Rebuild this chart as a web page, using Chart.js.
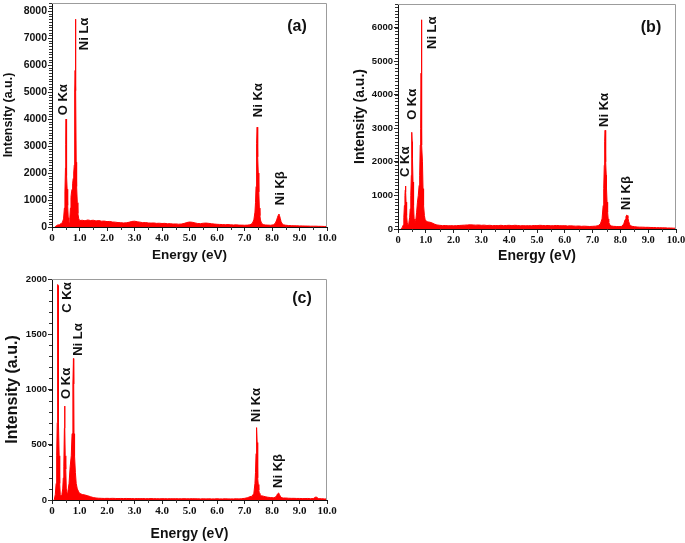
<!DOCTYPE html>
<html>
<head>
<meta charset="utf-8">
<script src="https://cdn.jsdelivr.net/npm/chart.js@4.4.1/dist/chart.umd.min.js"></script>
<style>
  html, body { margin: 0; padding: 0; background: #fff; overflow: hidden; }
  body { width: 685px; height: 543px; position: relative; }
  canvas { position: absolute; }
</style>
</head>
<body>
<canvas id="chartA" width="340" height="266" style="left:0;top:0"></canvas>
<canvas id="chartB" width="340" height="266" style="left:345px;top:0"></canvas>
<canvas id="chartC" width="340" height="273" style="left:0;top:270px"></canvas>
<script>
// EDS spectra (energy in eV, counts in a.u.)

const xTickLabels = ["0", "1.0", "2.0", "3.0", "4.0", "5.0", "6.0", "7.0", "8.0", "9.0", "10.0"];
const yTicksA = [0, 1000, 2000, 3000, 4000, 5000, 6000, 7000, 8000];
const yTicksB = [0, 1000, 2000, 3000, 4000, 5000, 6000];
const yTicksC = [0, 500, 1000, 1500, 2000];

// shared energies: flat background and the Ni K region
const baseEnergy = [
  1.1, 1.2, 1.3, 1.4, 1.5, 1.6, 1.7, 1.8, 1.9, 2.0,
  2.1, 2.2, 2.3, 2.4, 2.5, 2.6, 2.7, 2.8, 2.9, 3.0,
  3.1, 3.2, 3.3, 3.4, 3.5, 3.6, 3.7, 3.8, 3.9, 4.0,
  4.1, 4.2, 4.3, 4.4, 4.5, 4.6, 4.7, 4.8, 4.9, 5.0,
  5.1, 5.2, 5.3, 5.4, 5.5, 5.6, 5.7, 5.8, 5.9, 6.0,
  6.1, 6.2, 6.3, 6.4, 6.5, 6.6, 6.7, 6.8, 6.9, 7.0,
  7.1, 7.2
];
const kEnergy = [
  7.28, 7.34, 7.38, 7.40, 7.42, 7.43, 7.44, 7.45, 7.46, 7.47,
  7.48, 7.49, 7.50, 7.52, 7.54, 7.56, 7.58, 7.62, 7.68, 7.75,
  7.85, 7.95, 8.05, 8.12, 8.17, 8.20, 8.23, 8.25, 8.27, 8.30,
  8.33, 8.37, 8.42, 8.50,
  8.6, 8.7, 8.8, 8.9, 9.0, 9.1, 9.2, 9.3, 9.4, 9.5,
  9.6, 9.7, 9.8, 9.9, 10.0
];

// (a)
const lowEnergyA = [
  0.10, 0.14, 0.18, 0.22, 0.26, 0.30, 0.34, 0.38, 0.42, 0.45,
  0.47, 0.49, 0.50, 0.51, 0.52, 0.53, 0.54, 0.55, 0.57, 0.59,
  0.61, 0.63, 0.65, 0.67, 0.69, 0.71, 0.73, 0.75, 0.77, 0.79,
  0.81, 0.82, 0.83, 0.84, 0.85, 0.86, 0.87, 0.88, 0.89, 0.90,
  0.92, 0.94, 0.97, 1.00
];
const lowCountsA = [
  0, 30, 60, 80, 70, 110, 130, 180, 300, 700,
  1300, 2200, 3050, 4000, 3100, 3000, 1900, 1400, 800, 350,
  200, 180, 350, 700, 1100, 1300, 1400, 1600, 1800, 2000,
  2300, 2400, 5000, 5800, 7700, 5800, 5050, 2400, 2300, 1500,
  900, 500, 320, 240
];
const baseCountsA = [
  250, 230, 260, 240, 250, 225, 240, 215, 220, 200,
  205, 185, 180, 165, 160, 150, 155, 175, 205, 215,
  195, 180, 160, 165, 150, 145, 150, 135, 140, 130,
  135, 120, 125, 110, 115, 105, 110, 130, 165, 185,
  175, 150, 130, 125, 140, 145, 135, 120, 110, 100,
  95, 90, 85, 90, 80, 75, 80, 70, 70, 65,
  70, 80
];
const kCountsA = [
  130, 260, 550, 900, 1500, 2300, 2800, 3100, 3700, 3550,
  3300, 2600, 2000, 1300, 700, 420, 260, 140, 90, 75,
  70, 65, 80, 140, 260, 360, 440, 480, 430, 320,
  200, 120, 80, 65,
  55, 50, 45, 45, 40, 40, 35, 35, 30, 30,
  30, 25, 25, 20, 20
];

// (b)
const lowEnergyB = [
  0.10, 0.15, 0.19, 0.21, 0.23, 0.25, 0.26, 0.27, 0.28, 0.29,
  0.31, 0.33, 0.36, 0.39, 0.42, 0.44, 0.46, 0.48, 0.49, 0.50,
  0.51, 0.52, 0.54, 0.56, 0.58, 0.61, 0.64, 0.67, 0.70, 0.73,
  0.76, 0.78, 0.80, 0.81, 0.82, 0.83, 0.84, 0.85, 0.86, 0.88,
  0.90, 0.92, 0.95, 0.98, 1.00
];
const lowCountsB = [
  0, 40, 120, 350, 700, 1000, 1150, 1280, 1100, 800,
  400, 200, 130, 180, 350, 600, 1000, 1600, 2200, 2880,
  2600, 2100, 1400, 700, 300, 180, 250, 500, 800, 1000,
  1300, 1600, 2500, 2600, 3000, 4640, 6230, 4600, 2500, 2000,
  1200, 700, 400, 260, 220
];
const baseCountsB = [
  210, 190, 150, 120, 110, 100, 105, 95, 100, 95,
  100, 105, 110, 115, 120, 125, 120, 115, 120, 110,
  115, 105, 110, 100, 105, 100, 110, 100, 105, 110,
  100, 110, 105, 95, 100, 95, 100, 95, 105, 100,
  110, 105, 100, 105, 95, 100, 105, 100, 95, 100,
  90, 95, 90, 85, 90, 80, 85, 80, 75, 80,
  85, 100
];
const kCountsB = [
  150, 300, 700, 1200, 1900, 2300, 2600, 2940, 2850, 2500,
  2000, 1600, 1200, 800, 500, 300, 200, 120, 90, 80,
  75, 70, 80, 150, 280, 370, 415, 400, 330, 220,
  140, 100, 80, 70,
  60, 55, 55, 50, 50, 45, 45, 40, 40, 35,
  35, 30, 30, 25, 25
];

// (c)
const lowEnergyC = [
  0.08, 0.12, 0.15, 0.17, 0.19, 0.20, 0.21, 0.22, 0.23, 0.24,
  0.26, 0.28, 0.30, 0.33, 0.36, 0.39, 0.41, 0.43, 0.45, 0.46,
  0.47, 0.48, 0.50, 0.52, 0.55, 0.58, 0.62, 0.66, 0.70, 0.73,
  0.76, 0.78, 0.79, 0.80, 0.82, 0.85, 0.88, 0.92, 0.96, 1.00
];
const lowCountsC = [
  0, 50, 150, 400, 700, 1350, 1950, 1940, 1350, 700,
  400, 150, 50, 40, 50, 100, 200, 300, 650, 850,
  650, 400, 280, 100, 60, 80, 150, 300, 400, 600,
  1050, 1280, 1050, 600, 400, 250, 150, 100, 80, 60
];
const baseCountsC = [
  50, 45, 38, 30, 22, 18, 16, 15, 14, 15,
  14, 15, 14, 13, 14, 13, 14, 13, 13, 12,
  13, 12, 13, 12, 12, 13, 12, 12, 11, 12,
  12, 11, 12, 11, 12, 11, 11, 12, 11, 11,
  12, 11, 11, 10, 11, 10, 11, 10, 10, 11,
  10, 10, 11, 10, 10, 10, 11, 10, 12, 15,
  20, 30
];
const kCountsC = [
  35, 60, 150, 250, 420, 560, 655, 640, 520, 380,
  280, 200, 140, 90, 60, 45, 40, 38, 35, 30,
  25, 22, 20, 25, 40, 55, 62, 60, 50, 35,
  25, 20, 18, 18,
  16, 15, 15, 14, 14, 13, 13, 14, 12, 13,
  28, 12, 12, 10, 10
];

// peak labels: text plus the energy / count where the bottom of the text sits
const peakTextA = ["O K\u03b1", "Ni L\u03b1", "Ni K\u03b1", "Ni K\u03b2"];
const peakAtA = [0.42, 1.17, 7.49, 8.30];
const peakLiftA = [4140, 6550, 4070, 810];

const peakTextB = ["C K\u03b1", "O K\u03b1", "Ni L\u03b1", "Ni K\u03b1", "Ni K\u03b2"];
const peakAtB = [0.25, 0.52, 1.24, 7.43, 8.22];
const peakLiftB = [1550, 3250, 5360, 3040, 566];

const peakTextC = ["C K\u03b1", "Ni L\u03b1", "O K\u03b1", "Ni K\u03b1", "Ni K\u03b2"];
const peakAtC = [0.56, 0.95, 0.53, 7.44, 8.25];
const peakLiftC = [1695, 1305, 915, 707, 109];


// frame, minor ticks, peak labels and panel tag
const decorPlugin = {
    id: "decor",
    afterDraw(chart, args, opts) {
        const { ctx, chartArea: a, scales: { x, y } } = chart;
        ctx.save();

        ctx.strokeStyle = "#9c9c9c";
        ctx.lineWidth = 1;
        ctx.beginPath();
        ctx.moveTo(a.left, a.top + 0.5);
        ctx.lineTo(a.right - 0.5, a.top + 0.5);
        ctx.lineTo(a.right - 0.5, a.bottom);
        ctx.stroke();

        ctx.strokeStyle = "#333";
        ctx.beginPath();
        for (let v = 0; v <= y.max; v += opts.yMinor) {
            const p = Math.round(y.getPixelForValue(v)) + 0.5;
            ctx.moveTo(a.left - 3, p);
            ctx.lineTo(a.left, p);
        }
        for (let v = 0.5; v < 10; v += 1) {
            const p = Math.round(x.getPixelForValue(v)) + 0.5;
            ctx.moveTo(p, a.bottom);
            ctx.lineTo(p, a.bottom + 3);
        }
        ctx.stroke();

        ctx.fillStyle = "#111";
        ctx.font = "bold 13px 'Liberation Sans', Arial, sans-serif";
        ctx.textAlign = "left";
        ctx.textBaseline = "middle";
        opts.texts.forEach((t, i) => {
            ctx.save();
            ctx.translate(x.getPixelForValue(opts.at[i]), y.getPixelForValue(opts.lift[i]));
            ctx.rotate(-Math.PI / 2);
            ctx.fillText(t, 0, 0);
            ctx.restore();
        });

        ctx.font = "bold 16px 'Liberation Sans', Arial, sans-serif";
        ctx.textAlign = "center";
        ctx.fillText(opts.tag, a.right - opts.tagDx, a.top + opts.tagDy);
        ctx.restore();
    }
};

function makeSpectrum(id, energy, counts, cfg) {
    const points = energy.map((e, i) => ({ x: e, y: counts[i] }));
    return new Chart(document.getElementById(id), {
        type: "line",
        data: {
            datasets: [{
                data: points,
                borderColor: "#ff0000",
                backgroundColor: "#ff0000",
                borderWidth: 1,
                fill: "origin",
                pointRadius: 0,
                tension: 0
            }]
        },
        options: {
            responsive: false,
            animation: false,
            layout: { padding: { top: cfg.padTop, right: cfg.padRight, left: 0, bottom: 0 } },
            plugins: {
                legend: { display: false },
                tooltip: { enabled: false },
                decor: cfg.decor
            },
            scales: {
                x: {
                    type: "linear",
                    min: 0,
                    max: 10,
                    afterBuildTicks: (s) => { s.ticks = xTickLabels.map((t, i) => ({ value: i })); },
                    ticks: {
                        autoSkip: false,
                        maxRotation: 0,
                        padding: 1,
                        color: "#111",
                        font: { family: "'Liberation Serif', serif", weight: "bold", size: cfg.xTickSize },
                        callback: (v, i) => xTickLabels[i]
                    },
                    grid: { drawOnChartArea: false, tickLength: 4, color: "#222" },
                    border: { color: "#111", width: 1 },
                    title: {
                        display: true,
                        text: "Energy (eV)",
                        color: "#111",
                        font: { family: "'Liberation Sans', Arial, sans-serif", weight: "bold", size: cfg.xTitleSize },
                        padding: { top: 0, bottom: cfg.xTitlePad }
                    },
                    afterFit: (s) => { s.height = cfg.xHeight; s.paddingLeft = 0; s.paddingRight = 0; }
                },
                y: {
                    min: 0,
                    max: cfg.yMax,
                    afterBuildTicks: (s) => { s.ticks = cfg.yTicks.map((v) => ({ value: v })); },
                    ticks: {
                        padding: 1,
                        color: "#111",
                        font: { family: "'Liberation Sans', Arial, sans-serif", weight: "bold", size: cfg.yTickSize },
                        callback: (v) => String(v)
                    },
                    grid: { drawOnChartArea: false, tickLength: 4, color: "#222" },
                    border: { color: "#111", width: 1 },
                    title: {
                        display: true,
                        text: "Intensity (a.u.)",
                        color: "#111",
                        font: { family: "'Liberation Sans', Arial, sans-serif", weight: "bold", size: cfg.yTitleSize },
                        padding: { top: cfg.yTitlePad, bottom: 0 }
                    },
                    afterFit: (s) => { s.width = cfg.yWidth; s.paddingTop = 0; s.paddingBottom = 0; }
                }
            }
        },
        plugins: [decorPlugin]
    });
}

makeSpectrum("chartA",
    lowEnergyA.concat(baseEnergy, kEnergy),
    lowCountsA.concat(baseCountsA, kCountsA),
    {
        padTop: 3, padRight: 13, yWidth: 52, xHeight: 39,
        yMax: 8300, yTicks: yTicksA, yTickSize: 10.5, xTickSize: 11,
        xTitleSize: 13.5, xTitlePad: 3, yTitleSize: 12.5, yTitlePad: 1.5,
        decor: { yMinor: 100, texts: peakTextA, at: peakAtA, lift: peakLiftA, tag: "(a)", tagDx: 30, tagDy: 24 }
    });

makeSpectrum("chartB",
    lowEnergyB.concat(baseEnergy, kEnergy),
    lowCountsB.concat(baseCountsB, kCountsB),
    {
        padTop: 4, padRight: 9, yWidth: 53, xHeight: 37,
        yMax: 6700, yTicks: yTicksB, yTickSize: 9.5, xTickSize: 10.5,
        xTitleSize: 14, xTitlePad: 1.5, yTitleSize: 14, yTitlePad: 6.5,
        decor: { yMinor: 100, texts: peakTextB, at: peakAtB, lift: peakLiftB, tag: "(b)", tagDx: 25, tagDy: 24 }
    });

makeSpectrum("chartC",
    lowEnergyC.concat(baseEnergy, kEnergy),
    lowCountsC.concat(baseCountsC, kCountsC),
    {
        padTop: 9, padRight: 13, yWidth: 52, xHeight: 43,
        yMax: 2000, yTicks: yTicksC, yTickSize: 9.5, xTickSize: 11,
        xTitleSize: 14, xTitlePad: 0, yTitleSize: 16, yTitlePad: 3,
        decor: { yMinor: 100, texts: peakTextC, at: peakAtC, lift: peakLiftC, tag: "(c)", tagDx: 25, tagDy: 20 }
    });
</script>
</body>
</html>
